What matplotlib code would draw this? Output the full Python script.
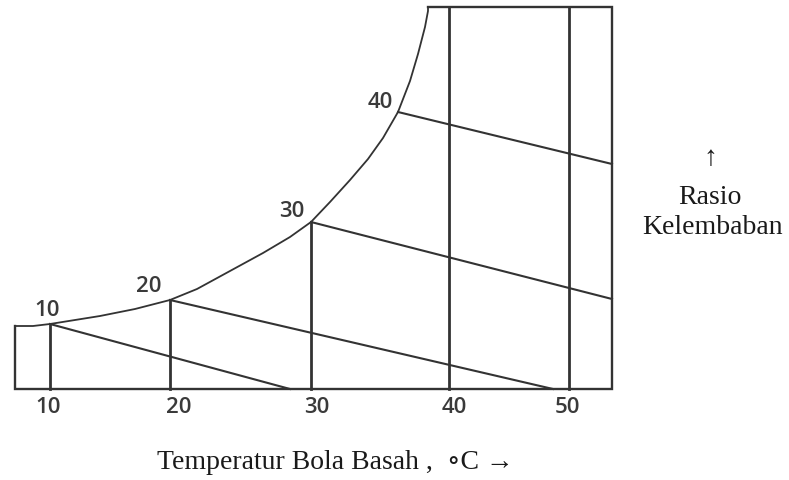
import matplotlib.pyplot as plt

# sketch coordinates (x to the right, y downward)
db_labels = ["10", "20", "30", "40", "50"]
db_x      = [50, 170, 311, 449, 569]          # dry-bulb vertical lines
db_top    = [325, 301, 223, 8, 8]             # where each vertical starts
base_y    = 390

# saturation curve (left box top -> top of chart)
sat_x = [15, 33, 50, 100, 135, 170, 197, 230, 263, 290, 311, 330, 350,
         368, 383, 398, 410, 418, 425, 428, 428]
sat_y = [327, 327, 325, 317, 310, 301, 290, 272, 254, 238, 223, 203, 181,
         160, 139, 113, 82, 55, 28, 12, 8]

# wet-bulb lines: start on the curve, end on bottom / right edge
wb_labels = ["10", "20", "30", "40"]
wb_x0 = [50, 170, 311, 398]
wb_y0 = [325, 301, 223, 113]
wb_x1 = [290, 553, 612, 612]
wb_y1 = [390, 390, 300, 165]
wb_lab_x = [47, 149, 292, 380]
wb_lab_y = [311, 287, 212, 102]

frame_x = [428, 612, 612, 15, 15]
frame_y = [8, 8, 390, 390, 327]

LC = '#333333'
TC = '#3a3a3a'
SERIF = ['Liberation Serif', 'DejaVu Serif']

fig = plt.figure(figsize=(7.89, 4.81), dpi=100)
ax = fig.add_axes([0, 0, 1, 1])
ax.set_xlim(0, 789)
ax.set_ylim(481, 0)
ax.axis('off')

ax.plot(frame_x, frame_y, color=LC, lw=1.7, solid_joinstyle='miter')
ax.plot(sat_x, sat_y, color=LC, lw=1.3, solid_joinstyle='round')

for x, top in zip(db_x, db_top):
    ax.plot([x, x], [top, base_y], color=LC, lw=2.0)

for x0, y0, x1, y1 in zip(wb_x0, wb_y0, wb_x1, wb_y1):
    ax.plot([x0, x1], [y0, y1], color=LC, lw=1.5)

tick_x = [48, 179, 317, 454, 567]
for x, lab in zip(tick_x, db_labels):
    ax.text(x, 408, lab, ha='center', va='center', fontsize=16,
            family='Open Sans', fontweight='semibold', color=TC)

for x, y, lab in zip(wb_lab_x, wb_lab_y, wb_labels):
    ax.text(x, y, lab, ha='center', va='center', fontsize=16,
            family='Open Sans', fontweight='semibold', color=TC)

ax.text(335, 463, "Temperatur Bola Basah ,  \u2218C \u2192", ha='center', va='center',
        fontsize=20, family=SERIF, color='#1a1a1a')
ax.text(710, 159, "\u2191", ha='center', va='center', fontsize=20,
        family=SERIF, color='#1a1a1a')
ax.text(710, 198, "Rasio", ha='center', va='center', fontsize=20,
        family=SERIF, color='#1a1a1a')
ax.text(713, 228, "Kelembaban", ha='center', va='center', fontsize=20,
        family=SERIF, color='#1a1a1a')

fig.savefig("out.png", dpi=100)
